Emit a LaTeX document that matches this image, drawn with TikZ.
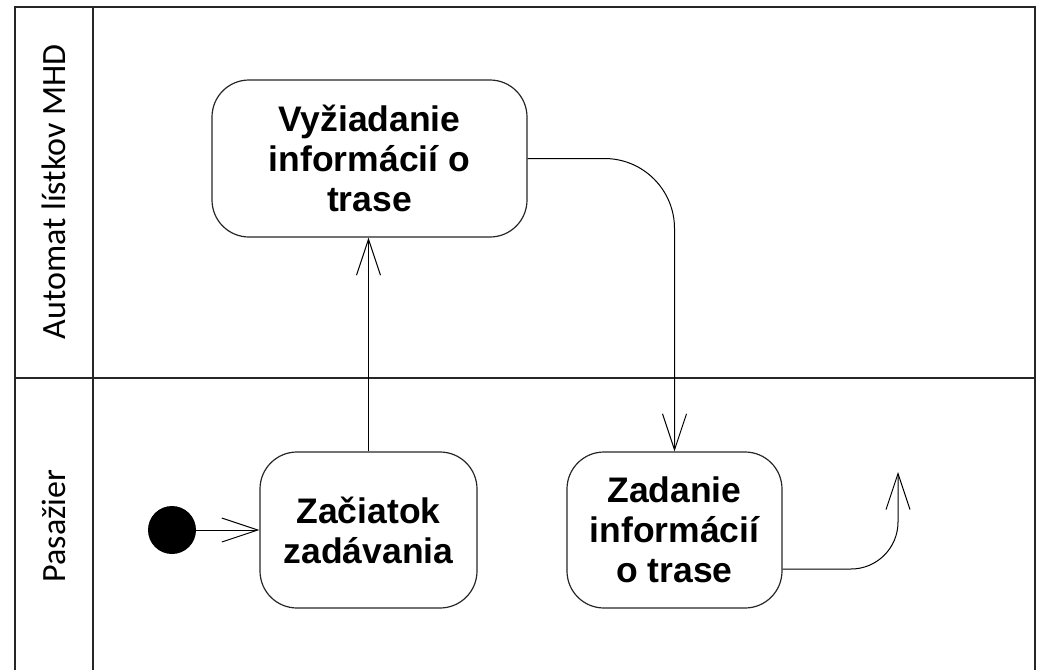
\documentclass[tikz,border=0pt]{standalone}
\usepackage{fontspec}
\newfontfamily\boxfont{Liberation Sans}
\newfontfamily\lanefont{Carlito}
\usetikzlibrary{arrows.meta}
\begin{document}
\begin{tikzpicture}[x=1pt,y=-1pt,
  frameline/.style={line width=1.5pt, draw=black!85},
  act/.style={draw=black!85, line width=1.2pt, rounded corners=37pt, align=center,
    font=\boxfont\bfseries\fontsize{35.5}{40}\selectfont, inner sep=0pt},
  flow/.style={line width=1pt, -{Straight Barb[length=36pt,width=24pt,line width=1pt]}},
  lanelabel/.style={font=\lanefont\fontsize{34}{40}\selectfont, rotate=90},
  initnode/.style={circle, fill=black, minimum size=48pt, inner sep=0pt}
]
\useasboundingbox (0,0) rectangle (1041,670);
% frame
\draw[frameline] (15,670) -- (15,7) -- (1035,7) -- (1035,670);
\draw[frameline] (93,7) -- (93,670);
\draw[frameline] (15,378) -- (1035,378);
% lane labels
\node[lanelabel] (lane1) at (54,192) {Automat lístkov MHD};
\node[lanelabel] (lane2) at (54,526) {Pasažier};
% activities
\node[act, minimum width=315pt, minimum height=157pt] (b1) at (369.5,158.5) {Vyžiadanie\\informácií o\\trase};
\node[act, minimum width=217pt, minimum height=156pt] (b2) at (368.5,530) {Začiatok\\zadávania};
\node[act, minimum width=215pt, minimum height=156pt] (b3) at (674.5,530) {Zadanie\\informácií\\o trase};
\node[initnode] (init) at (172,530) {};
\coordinate (b3out) at ([yshift=-39pt]b3.east);
\coordinate (endpt) at (898,472);
% connectors
\draw[flow] (init) -- (b2.west);
\draw[flow] (b2.north) -- (b2.north |- b1.south);
\draw[flow, rounded corners=70pt] (b1.east) -| (b3.north);
\draw[flow, rounded corners=47pt] (b3out) -| (endpt);
\end{tikzpicture}
\end{document}
